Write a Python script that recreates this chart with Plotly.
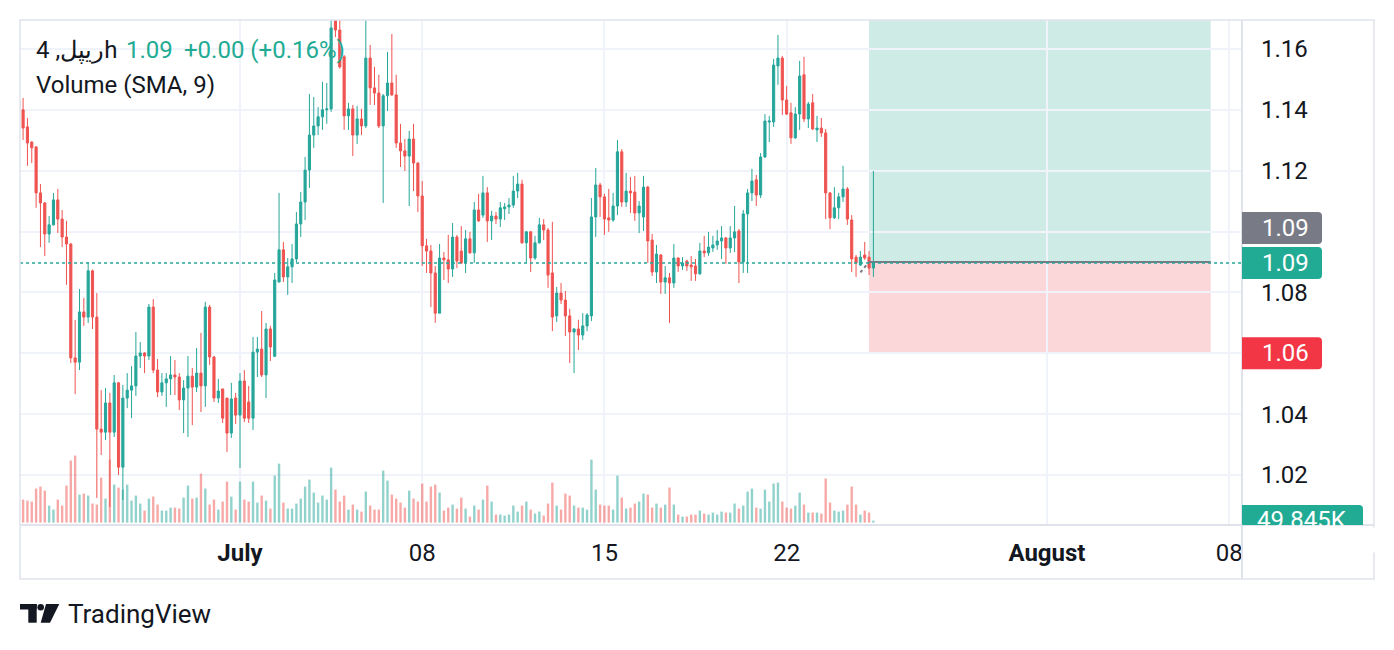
import pandas as pd
import plotly.graph_objects as go

SYMBOL = "ریپل, 4h"
FIRST_BAR = "2024-06-22 12:00"
BAR_HOURS = 4

opens = [
    1.1432, 1.1400, 1.1344, 1.1294, 1.1278, 1.1127, 1.1094, 1.0992, 1.1022, 1.1104,
    1.1041, 1.0982, 1.0959, 1.0585, 1.0571, 1.0736, 1.0719, 1.0871, 1.0719, 1.0351,
    1.0341, 1.0437, 1.0341, 1.0503, 1.0226, 1.0453, 1.0479, 1.0493, 1.0591, 1.0601,
    1.0591, 1.0752, 1.0545, 1.0473, 1.0503, 1.0516, 1.0529, 1.0522, 1.0447, 1.0486,
    1.0525, 1.0489, 1.0535, 1.0493, 1.0752, 1.0588, 1.0453, 1.0483, 1.0453, 1.0338,
    1.0453, 1.0397, 1.0509, 1.0440, 1.0387, 1.0604, 1.0614, 1.0529, 1.0680, 1.0590,
    1.0834, 1.0940, 1.0851, 1.0884, 1.0910, 1.1025, 1.1097, 1.1202, 1.1317, 1.1347,
    1.1377, 1.1400, 1.1403, 1.1702, 1.1662, 1.1574, 1.1380, 1.1403, 1.1317, 1.1370,
    1.1347, 1.1570, 1.1472, 1.1455, 1.1347, 1.1446, 1.1488, 1.1449, 1.1291, 1.1265,
    1.1248, 1.1304, 1.1225, 1.1117, 1.0953, 1.0936, 1.0864, 1.0732, 1.0913, 1.0907,
    1.0877, 1.0982, 1.0936, 1.0897, 1.0976, 1.0930, 1.1071, 1.1054, 1.1127, 1.1035,
    1.1051, 1.1041, 1.1075, 1.1081, 1.1087, 1.1133, 1.1156, 1.0963, 1.0999, 1.0913,
    1.0963, 1.1022, 1.1005, 1.0864, 1.0723, 1.0798, 1.0775, 1.0723, 1.0670, 1.0680,
    1.0660, 1.0690, 1.0723, 1.1048, 1.1153, 1.1114, 1.1045, 1.1038, 1.1084, 1.1262,
    1.1097, 1.1133, 1.1130, 1.1061, 1.1048, 1.1146, 1.0972, 1.0867, 1.0923, 1.0834,
    1.0848, 1.0831, 1.0913, 1.0887, 1.0903, 1.0890, 1.0887, 1.0861, 1.0936, 1.0930,
    1.0946, 1.0956, 1.0969, 1.0979, 1.0946, 1.0979, 1.1002, 1.0900, 1.1058, 1.1127,
    1.1170, 1.1120, 1.1245, 1.1360, 1.1360, 1.1544, 1.1570, 1.1432, 1.1390, 1.1308,
    1.1386, 1.1515, 1.1370, 1.1423, 1.1334, 1.1340, 1.1324, 1.1127, 1.1045, 1.1078,
    1.1114, 1.1140, 1.1038, 1.0916, 1.0890, 1.0923, 1.0916, 1.0880,
]
highs = [
    1.1478, 1.1439, 1.1373, 1.1296, 1.1281, 1.1156, 1.1097, 1.1051, 1.1127, 1.1140,
    1.1071, 1.1035, 1.0962, 1.0710, 1.0811, 1.0782, 1.0900, 1.0875, 1.0798, 1.0479,
    1.0486, 1.0470, 1.0529, 1.0506, 1.0496, 1.0535, 1.0558, 1.0670, 1.0637, 1.0604,
    1.0762, 1.0778, 1.0581, 1.0535, 1.0535, 1.0591, 1.0578, 1.0535, 1.0512, 1.0591,
    1.0552, 1.0617, 1.0667, 1.0769, 1.0759, 1.0591, 1.0516, 1.0483, 1.0453, 1.0503,
    1.0470, 1.0535, 1.0545, 1.0493, 1.0654, 1.0654, 1.0739, 1.0700, 1.0690, 1.0864,
    1.1127, 1.0966, 1.0913, 1.0959, 1.1064, 1.1130, 1.1245, 1.1452, 1.1442, 1.1409,
    1.1492, 1.1488, 1.1712, 1.1722, 1.1712, 1.1580, 1.1423, 1.1416, 1.1413, 1.1403,
    1.1702, 1.1613, 1.1541, 1.1515, 1.1452, 1.1590, 1.1649, 1.1515, 1.1354, 1.1304,
    1.1331, 1.1354, 1.1228, 1.1166, 1.0976, 1.0956, 1.0887, 1.0959, 1.0933, 1.0989,
    1.1028, 1.0989, 1.1018, 1.1005, 1.0999, 1.1097, 1.1124, 1.1183, 1.1146, 1.1068,
    1.1064, 1.1097, 1.1094, 1.1110, 1.1183, 1.1193, 1.1170, 1.1002, 1.1002, 1.0986,
    1.1045, 1.1041, 1.1012, 1.1032, 1.0818, 1.0831, 1.0805, 1.0746, 1.0683, 1.0710,
    1.0732, 1.0732, 1.1110, 1.1209, 1.1160, 1.1124, 1.1140, 1.1127, 1.1301, 1.1271,
    1.1193, 1.1179, 1.1183, 1.1100, 1.1183, 1.1150, 1.0992, 1.0956, 1.0926, 1.0887,
    1.0864, 1.0959, 1.0916, 1.0916, 1.0907, 1.0920, 1.0910, 1.0963, 1.0986, 1.0999,
    1.0986, 1.1005, 1.1018, 1.0982, 1.1018, 1.1084, 1.1008, 1.1071, 1.1140, 1.1206,
    1.1186, 1.1258, 1.1386, 1.1380, 1.1567, 1.1646, 1.1577, 1.1478, 1.1423, 1.1409,
    1.1561, 1.1574, 1.1426, 1.1452, 1.1380, 1.1373, 1.1337, 1.1130, 1.1146, 1.1127,
    1.1216, 1.1146, 1.1054, 1.0923, 1.0936, 1.0966, 1.0936, 1.1199,
]
lows = [
    1.1301, 1.1301, 1.1216, 1.1225, 1.1078, 1.0949, 1.0920, 1.0963, 1.1020, 1.0995,
    1.0949, 1.0825, 1.0568, 1.0466, 1.0545, 1.0690, 1.0700, 1.0680, 1.0125, 1.0266,
    1.0315, 1.0095, 1.0325, 1.0200, 1.0118, 1.0420, 1.0387, 1.0460, 1.0552, 1.0535,
    1.0578, 1.0535, 1.0456, 1.0460, 1.0424, 1.0463, 1.0463, 1.0414, 1.0338, 1.0325,
    1.0364, 1.0473, 1.0407, 1.0424, 1.0562, 1.0440, 1.0437, 1.0371, 1.0276, 1.0322,
    1.0368, 1.0223, 1.0374, 1.0371, 1.0348, 1.0522, 1.0522, 1.0453, 1.0575, 1.0588,
    1.0834, 1.0834, 1.0792, 1.0831, 1.0900, 1.0982, 1.1038, 1.1143, 1.1275, 1.1317,
    1.1334, 1.1354, 1.1393, 1.1639, 1.1535, 1.1334, 1.1334, 1.1248, 1.1288, 1.1317,
    1.1340, 1.1416, 1.1416, 1.1340, 1.1094, 1.1396, 1.1446, 1.1275, 1.1212, 1.1199,
    1.1084, 1.1133, 1.1064, 1.0887, 1.0864, 1.0752, 1.0700, 1.0732, 1.0841, 1.0831,
    1.0851, 1.0880, 1.0893, 1.0864, 1.0927, 1.0897, 1.1032, 1.1045, 1.0966, 1.0972,
    1.1025, 1.1015, 1.1038, 1.1058, 1.1078, 1.1110, 1.0960, 1.0897, 1.0867, 1.0907,
    1.0960, 1.0972, 1.0815, 1.0673, 1.0703, 1.0762, 1.0657, 1.0568, 1.0535, 1.0611,
    1.0644, 1.0673, 1.0706, 1.0982, 1.1048, 1.0989, 1.0999, 1.1032, 1.1054, 1.1081,
    1.1081, 1.1061, 1.1035, 1.0995, 1.1002, 1.0897, 1.0854, 1.0831, 1.0795, 1.0795,
    1.0700, 1.0815, 1.0867, 1.0874, 1.0871, 1.0838, 1.0838, 1.0858, 1.0916, 1.0920,
    1.0933, 1.0940, 1.0910, 1.0894, 1.0930, 1.0933, 1.0831, 1.0864, 1.0864, 1.1100,
    1.1084, 1.1110, 1.1242, 1.1294, 1.1344, 1.1482, 1.1383, 1.1383, 1.1288, 1.1304,
    1.1334, 1.1360, 1.1340, 1.1334, 1.1294, 1.1311, 1.1041, 1.1008, 1.1041, 1.1041,
    1.1097, 1.1022, 1.0867, 1.0851, 1.0887, 1.0907, 1.0857, 1.0851,
]
closes = [
    1.1400, 1.1340, 1.1291, 1.1275, 1.1127, 1.1094, 1.0992, 1.1022, 1.1104, 1.1041,
    1.0982, 1.0959, 1.0585, 1.0571, 1.0736, 1.0719, 1.0871, 1.0719, 1.0351, 1.0341,
    1.0437, 1.0341, 1.0503, 1.0226, 1.0453, 1.0479, 1.0493, 1.0591, 1.0601, 1.0591,
    1.0752, 1.0545, 1.0473, 1.0503, 1.0516, 1.0529, 1.0522, 1.0447, 1.0486, 1.0525,
    1.0489, 1.0535, 1.0493, 1.0752, 1.0588, 1.0453, 1.0476, 1.0387, 1.0338, 1.0450,
    1.0397, 1.0509, 1.0387, 1.0387, 1.0604, 1.0614, 1.0529, 1.0680, 1.0621, 1.0841,
    1.0940, 1.0851, 1.0884, 1.0910, 1.1025, 1.1097, 1.1202, 1.1317, 1.1347, 1.1377,
    1.1400, 1.1403, 1.1669, 1.1662, 1.1541, 1.1380, 1.1403, 1.1317, 1.1370, 1.1347,
    1.1570, 1.1472, 1.1455, 1.1347, 1.1446, 1.1488, 1.1449, 1.1291, 1.1265, 1.1248,
    1.1304, 1.1225, 1.1117, 1.0953, 1.0936, 1.0864, 1.0732, 1.0913, 1.0907, 1.0877,
    1.0982, 1.0903, 1.0897, 1.0976, 1.0930, 1.1071, 1.1035, 1.1127, 1.1035, 1.1051,
    1.1041, 1.1078, 1.1081, 1.1087, 1.1133, 1.1156, 1.0963, 1.0999, 1.0913, 1.0963,
    1.1022, 1.1005, 1.0857, 1.0719, 1.0798, 1.0775, 1.0723, 1.0670, 1.0680, 1.0660,
    1.0690, 1.0726, 1.1048, 1.1153, 1.1114, 1.1041, 1.1038, 1.1084, 1.1262, 1.1097,
    1.1133, 1.1127, 1.1061, 1.1084, 1.1146, 1.0969, 1.0867, 1.0926, 1.0834, 1.0848,
    1.0831, 1.0913, 1.0887, 1.0897, 1.0887, 1.0884, 1.0861, 1.0936, 1.0930, 1.0949,
    1.0956, 1.0969, 1.0979, 1.0946, 1.0979, 1.0999, 1.0900, 1.1058, 1.1127, 1.1166,
    1.1120, 1.1245, 1.1363, 1.1363, 1.1547, 1.1570, 1.1432, 1.1386, 1.1308, 1.1386,
    1.1511, 1.1370, 1.1419, 1.1337, 1.1340, 1.1324, 1.1127, 1.1045, 1.1078, 1.1114,
    1.1140, 1.1041, 1.0910, 1.0897, 1.0916, 1.0913, 1.0880, 1.0897,
]
# volume in thousands
volumes_k = [
    500, 575, 550, 525, 850, 900, 800, 425, 325, 575,
    425, 925, 1550, 1675, 700, 725, 675, 475, 450, 1125,
    600, 1575, 950, 875, 825, 950, 550, 675, 475, 300,
    600, 650, 450, 300, 300, 375, 375, 350, 625, 925,
    600, 625, 1225, 850, 450, 575, 325, 525, 1025, 650,
    325, 1025, 575, 525, 1025, 500, 675, 550, 350, 1175,
    1475, 500, 350, 350, 475, 600, 900, 1075, 750, 500,
    675, 575, 1375, 825, 525, 675, 325, 450, 325, 275,
    775, 425, 325, 325, 1300, 1050, 700, 600, 500, 375,
    800, 600, 525, 975, 525, 900, 950, 750, 300, 375,
    450, 350, 625, 350, 150, 425, 325, 575, 925, 525,
    200, 200, 175, 200, 425, 275, 425, 525, 325, 225,
    275, 175, 475, 1000, 425, 325, 725, 675, 425, 375,
    375, 325, 1575, 825, 450, 425, 425, 325, 1175, 625,
    350, 375, 475, 525, 725, 700, 375, 475, 375, 450,
    875, 450, 200, 150, 150, 200, 200, 300, 225, 200,
    250, 200, 275, 250, 250, 475, 350, 425, 775, 850,
    375, 350, 825, 525, 975, 1000, 525, 375, 350, 425,
    750, 450, 250, 250, 250, 225, 1100, 500, 300, 275,
    300, 450, 900, 450, 200, 300, 250, 49.845,
]

# long position tool
POS_START = "2024-07-25 04:00"
POS_END = "2024-08-07 07:00"
ENTRY = 1.09
STOP = 1.06
TARGET = 1.21

X_TICKS = ["2024-07-01", "2024-07-08", "2024-07-15", "2024-07-22", "2024-08-01", "2024-08-08"]
X_LABELS = ["<b>July</b>", "08", "15", "22", "<b>August</b>", "08"]
Y_TICKS = [1.02, 1.04, 1.06, 1.08, 1.10, 1.12, 1.14, 1.16]
Y_LABELS = ["1.02", "1.04", "", "1.08", "", "1.12", "1.14", "1.16"]

UP = "#26a69a"
DOWN = "#ef5350"
UP_VOL = "rgba(38,166,154,0.5)"
DOWN_VOL = "rgba(239,83,80,0.5)"
TEXT = "#131722"
GRID = "#f0f3fa"
BORDER = "#e0e3eb"
LABEL_GREEN = "#22ab94"
LABEL_RED = "#f23645"
LABEL_GREY = "#787b86"
FONT = "Roboto"

times = pd.date_range(FIRST_BAR, periods=len(closes), freq=f"{BAR_HOURS}h")
vol_colors = [UP_VOL if c >= o else DOWN_VOL for o, c in zip(opens, closes)]

fig = go.Figure()
fig.add_trace(go.Bar(
    x=times, y=volumes_k, yaxis="y",
    marker=dict(color=vol_colors, line=dict(width=0)),
    width=BAR_HOURS * 3600 * 1000 * 0.55,
    showlegend=False, hoverinfo="skip",
))
fig.add_trace(go.Candlestick(
    x=times, open=opens, high=highs, low=lows, close=closes, yaxis="y2",
    increasing=dict(line=dict(color=UP, width=1), fillcolor=UP),
    decreasing=dict(line=dict(color=DOWN, width=1), fillcolor=DOWN),
    whiskerwidth=0, showlegend=False, hoverinfo="skip",
))

last = closes[-1]
prev = closes[-2]
chg = last - prev
pct = chg / prev * 100

shapes = []
# position zones
shapes.append(dict(type="rect", xref="x", yref="y2", x0=POS_START, x1=POS_END,
                   y0=ENTRY, y1=TARGET, fillcolor="rgba(8,153,129,0.2)",
                   line=dict(width=0), layer="below"))
shapes.append(dict(type="rect", xref="x", yref="y2", x0=POS_START, x1=POS_END,
                   y0=STOP, y1=ENTRY, fillcolor="rgba(242,54,69,0.2)",
                   line=dict(width=0), layer="below"))
shapes.append(dict(type="line", xref="x", yref="y2", x0=POS_START, x1=POS_END,
                   y0=ENTRY, y1=ENTRY, line=dict(color=LABEL_GREY, width=2)))
shapes.append(dict(type="line", xref="x", yref="y2", x0="2024-07-24 20:00", x1=POS_START,
                   y0=1.0866, y1=ENTRY, line=dict(color=LABEL_GREY, width=2, dash="dot")))
# last price line
shapes.append(dict(type="line", xref="paper", yref="y2", x0=0, x1=1, y0=last, y1=last,
                   line=dict(color=UP, width=1.5, dash="dot")))

# frame
shapes.append(dict(type="rect", xref="paper", yref="paper", x0=0, x1=1.108, y0=-0.107, y1=1,
                   line=dict(color=BORDER, width=1.5)))
shapes.append(dict(type="line", xref="paper", yref="paper", x0=1, x1=1, y0=-0.107, y1=1,
                   line=dict(color=BORDER, width=2)))
shapes.append(dict(type="line", xref="paper", yref="paper", x0=0, x1=1.108, y0=0, y1=0,
                   line=dict(color=BORDER, width=2)))

ROUND = "M 0,-16 L 76,-16 Q 80,-16 80,-12 L 80,12 Q 80,16 76,16 L 0,16 Z"
ROUND_UP = "M 0,18 L 76,18 Q 80,18 80,22 L 80,46 Q 80,50 76,50 L 0,50 Z"


def price_label(price, color, path):
    shapes.append(dict(type="path", path=path, xref="paper", yref="y2",
                       xsizemode="pixel", xanchor=1, ysizemode="pixel", yanchor=price,
                       fillcolor=color, line=dict(width=0)))


price_label(ENTRY, LABEL_GREY, ROUND_UP)
price_label(last, LABEL_GREEN, ROUND)
price_label(STOP, LABEL_RED, ROUND)

# volume label on the scale
shapes.append(dict(type="path",
                   path="M 0,0 L 0,20 L 117,20 Q 121,20 121,16 L 121,0 Z",
                   xref="paper", yref="paper", xsizemode="pixel", xanchor=1,
                   ysizemode="pixel", yanchor=0, fillcolor=LABEL_GREEN, line=dict(width=0)))

# TradingView logo
logo = [
    "M 0,-79 L 16.7,-79 L 16.7,-84.5 L 0,-84.5 Z",
    "M 8.3,-79 L 16.7,-79 L 16.7,-97.7 L 8.3,-97.7 Z",
    "M 26,-79 L 39.3,-79 L 30,-97.7 L 20.7,-97.7 Z",
]
for p in logo:
    shapes.append(dict(type="path", path=p, xref="paper", yref="paper",
                       xsizemode="pixel", xanchor=0, ysizemode="pixel", yanchor=0,
                       fillcolor=TEXT, line=dict(width=0)))
shapes.append(dict(type="circle", xref="paper", yref="paper",
                   xsizemode="pixel", xanchor=0, ysizemode="pixel", yanchor=0,
                   x0=17.4, x1=24.0, y0=-79, y1=-85.6, fillcolor=TEXT, line=dict(width=0)))

annotations = []


def note(text, x, y, xshift, yshift, color=TEXT, size=24, xref="paper", yref="paper",
         xanchor="left", **kw):
    annotations.append(dict(text=text, x=x, y=y, xref=xref, yref=yref, xshift=xshift,
                            yshift=yshift, xanchor=xanchor, yanchor="middle", showarrow=False,
                            font=dict(family=FONT, size=size, color=color), **kw))


note(SYMBOL, 0, 1, 14, -30)
note(f"{last:.2f}", 0, 1, 104, -30, color=LABEL_GREEN)
note(f"{chg:+.2f} ({pct:+.2f}%)", 0, 1, 162, -30, color=LABEL_GREEN)
note("Volume (SMA, 9)", 0, 1, 14, -65)

note(f"{ENTRY:.2f}", 1, ENTRY, 18, 34, color="white", yref="y2")
note(f"{last:.2f}", 1, last, 18, 0, color="white", yref="y2")
note(f"{STOP:.2f}", 1, STOP, 18, 0, color="white", yref="y2")
note(f"{volumes_k[-1]:.3f}K", 1, 0, 60, 5, color="white", xanchor="center")
# hide the lower part of the volume label under the time scale
annotations.append(dict(text=" ", x=1, y=0, xref="paper", yref="paper", xshift=2, yshift=-2,
                        xanchor="left", yanchor="top", showarrow=False, bgcolor="white",
                        width=128, height=22, font=dict(size=10)))

note("TradingView", 0, 0, 46, -89, size=26)

fig.update_layout(
    width=1394, height=650,
    margin=dict(l=12, r=160, t=12, b=133),
    paper_bgcolor="white", plot_bgcolor="white",
    font=dict(family=FONT, color=TEXT),
    showlegend=False,
    xaxis=dict(
        type="date", range=["2024-06-22 13:09", "2024-08-08 11:51"],
        tickvals=X_TICKS, ticktext=X_LABELS, ticks="",
        tickfont=dict(size=24, color=TEXT), ticklabelstandoff=11,
        showgrid=True, gridcolor=GRID, gridwidth=2,
        zeroline=False, showline=False, rangeslider=dict(visible=False),
    ),
    yaxis=dict(range=[-60, 12565], visible=False, fixedrange=True),
    yaxis2=dict(
        overlaying="y", side="right", range=[1.0036, 1.1695],
        tickvals=Y_TICKS, ticktext=Y_LABELS, ticks="",
        tickfont=dict(size=24, color=TEXT), ticklabelstandoff=18,
        showgrid=True, gridcolor=GRID, gridwidth=2,
        zeroline=False, showline=False,
    ),
    shapes=shapes,
    annotations=annotations,
)

fig.write_html("out.html")
